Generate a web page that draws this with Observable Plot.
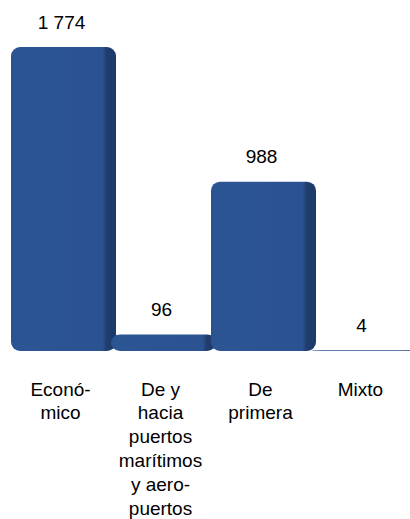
<!DOCTYPE html>
<html>
<head>
<meta charset="utf-8">
<script src="https://cdn.jsdelivr.net/npm/d3@7"></script>
<script src="https://cdn.jsdelivr.net/npm/@observablehq/plot@0.6"></script>
<style>
  html, body { margin: 0; padding: 0; background: #fff; }
  #chart { width: 410px; height: 519px; }
</style>
</head>
<body>
<div id="chart"></div>
<script>
const categories = ["Económico", "De y hacia puertos marítimos y aeropuertos", "De primera", "Mixto"];
const axisLabels = ["Econó-\nmico", "De y\nhacia\npuertos\nmarítimos\ny aero-\npuertos", "De\nprimera", "Mixto"];
const values = [1774, 96, 988, 4];
const valueLabels = ["1 774", "96", "988", "4"];

const data = categories.map((c, i) => ({cat: c, value: values[i], label: valueLabels[i], axis: axisLabels[i]}));

const chart = Plot.plot({
  width: 410,
  height: 519,
  marginTop: 47,
  marginBottom: 168,
  marginLeft: 10,
  marginRight: 0,
  style: {fontFamily: "'Liberation Sans', Arial, sans-serif", fontSize: "19px", color: "#000", background: "#fff"},
  x: {domain: categories, padding: 0, axis: null},
  y: {domain: [0, 1774], axis: null},
  marks: [
    Plot.barY(data, {x: "cat", y: "value", fill: "url(#barGrad)", rx: 9, insetLeft: 1, insetRight: -6}),
    Plot.text(data, {x: "cat", y: "value", text: "label", lineAnchor: "bottom", dy: -19, dx: 1, fontSize: 19, fill: "#000"}),
    Plot.text(data, {x: "cat", y: 0, text: "axis", lineAnchor: "top", dy: 27, lineHeight: 1.26, fontSize: 19, fill: "#000"})
  ]
});

const svg = d3.select(chart);
const defs = svg.insert("defs", ":first-child");
const g = defs.append("linearGradient").attr("id", "barGrad").attr("x1", 0).attr("x2", 1).attr("y1", 0).attr("y2", 0);
g.append("stop").attr("offset", "0").attr("stop-color", "#2a5290");
g.append("stop").attr("offset", "0.06").attr("stop-color", "#2c5594");
g.append("stop").attr("offset", "0.87").attr("stop-color", "#2b5391");
g.append("stop").attr("offset", "0.91").attr("stop-color", "#1f3e6e");
g.append("stop").attr("offset", "1").attr("stop-color", "#1d3a67");

document.getElementById("chart").appendChild(chart);
</script>
</body>
</html>
